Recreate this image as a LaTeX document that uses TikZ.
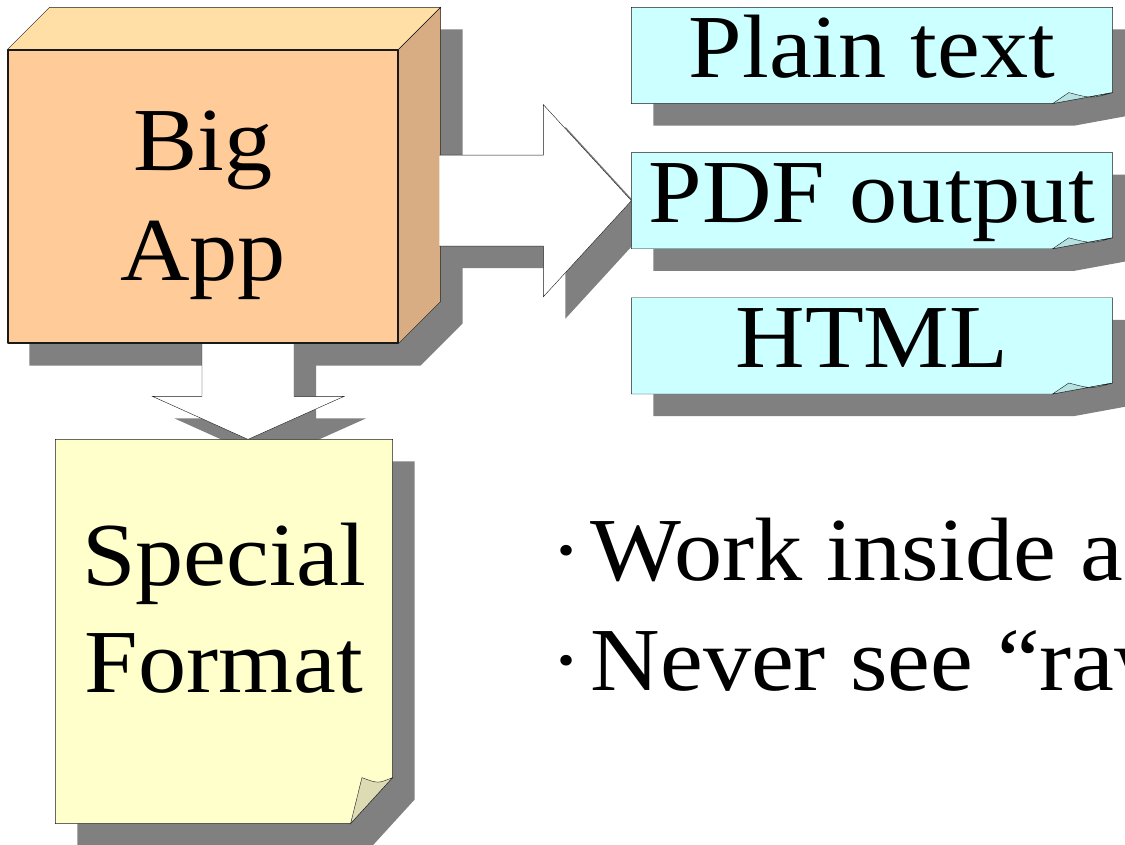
\documentclass[tikz,border=0pt]{standalone}
\usepackage{fontspec}
\setmainfont[FakeStretch=1.07]{Liberation Serif}
\usetikzlibrary{positioning}
\definecolor{peach}{HTML}{FFCC99}
\definecolor{peachtop}{HTML}{FFDFA6}
\definecolor{peachside}{HTML}{D9AD84}
\definecolor{notecyan}{HTML}{CCFFFF}
\definecolor{notecyanflap}{HTML}{B6E2E2}
\definecolor{noteyellow}{HTML}{FFFFCC}
\definecolor{noteyellowflap}{HTML}{DDDBB3}
\definecolor{shadowgray}{HTML}{808080}
\pgfdeclarelayer{shadows}
\pgfdeclarelayer{bodies}
\pgfsetlayers{shadows,bodies,main}
\begin{document}
\begin{tikzpicture}[x=1pt,y=-1pt,line width=1.2pt,line join=round,
  every node/.style={inner sep=0pt,font=\fontsize{90}{108}\selectfont},
  dropshadow/.style={fill=shadowgray},
  outline/.style={draw=black!90},
  blockarrow/.style={outline,fill=white},
  outnote/.style={minimum width=480pt,minimum height=95pt,text height=62pt,text depth=18pt}]
  \newcommand{\stickynote}[5]{%
    \begin{pgfonlayer}{shadows}
      \fill[dropshadow] ([shift={(22,22)}]#1.north west) -- ([shift={(22,22)}]#1.north east)
        -- ([shift={(22,22-#3)}]#1.south east) -- ([shift={(22-#2,22)}]#1.south east)
        -- ([shift={(22,22)}]#1.south west) -- cycle;
    \end{pgfonlayer}
    \begin{pgfonlayer}{bodies}
      \draw[outline,fill=#4] (#1.north west) -- (#1.north east) -- ([shift={(0,-#3)}]#1.south east)
        -- ([shift={(-#2,0)}]#1.south east) -- (#1.south west) -- cycle;
      \draw[outline,fill=#5] ([shift={(-#2,0)}]#1.south east) -- ([shift={(-0.73*#2,-#3)}]#1.south east)
        .. controls ([shift={(-0.35*#2,-#3+6)}]#1.south east) .. ([shift={(0,-#3)}]#1.south east) -- cycle;
    \end{pgfonlayer}}
  \newcommand{\rightblock}[2]{%
    \path[#2] ([shift={(-192+#1,-45.5+#1)}]pdf.west) -- ([shift={(-88+#1,-45.5+#1)}]pdf.west)
      -- ([shift={(-88+#1,-96+#1)}]pdf.west) -- ([shift={(#1,#1)}]pdf.west)
      -- ([shift={(-88+#1,96+#1)}]pdf.west) -- ([shift={(-88+#1,45.5+#1)}]pdf.west)
      -- ([shift={(-192+#1,45.5+#1)}]pdf.west);}
  \newcommand{\downblock}[2]{%
    \path[#2] ([shift={(-46+#1,-97+#1)}]dtip) -- ([shift={(-46+#1,-43+#1)}]dtip)
      -- ([shift={(-95.5+#1,-43+#1)}]dtip) -- ([shift={(#1,#1)}]dtip)
      -- ([shift={(96+#1,-43+#1)}]dtip) -- ([shift={(46+#1,-43+#1)}]dtip)
      -- ([shift={(46+#1,-97+#1)}]dtip);}
  \useasboundingbox (0,0) rectangle (1125,845);
  % Big App box
  \node[outline,fill=peach,minimum width=390pt,minimum height=293pt] (app) at (203,196.5) {};
  \foreach \w/\y in {Big/171,App/280} {\node[anchor=base] (lbl\w) at (203,\y) {\w};}
  % Output notes
  \node[outnote] (plain) at (872,55.5) {Plain text};
  \node[outnote,below=49pt of plain] (pdf) {PDF output};
  \node[outnote,below=49pt of pdf] (html) {HTML};
  % Special format note
  \node[minimum width=336pt,minimum height=383pt] (fmt) at (224,631.5) {};
  \foreach \w/\y in {Special/585,Format/692} {\node[anchor=base] (lbl\w) at (224,\y) {\w};}
  \coordinate (dtip) at ([shift={(24,0)}]fmt.north);
  % Bullets
  \node[anchor=base west] (work) at (550,580) {·\hspace{0.09em}Work inside a};
  \node[anchor=base west] (never) at (550,690) {·\hspace{0.09em}Never see “raw};
  % Shadows of box and arrows
  \begin{pgfonlayer}{shadows}
    \fill[dropshadow] ([shift={(22,22)}]app.south west) -- ([shift={(22,22)}]app.north west)
      -- ([shift={(64,-20)}]app.north west) -- ([shift={(64,-20)}]app.north east)
      -- ([shift={(64,-20)}]app.south east) -- ([shift={(22,22)}]app.south east) -- cycle;
    \rightblock{22}{dropshadow}
    \downblock{22}{dropshadow}
  \end{pgfonlayer}
  % Box faces and arrows
  \begin{pgfonlayer}{bodies}
    \draw[outline,fill=peachtop] (app.north west) -- ([shift={(42,-42)}]app.north west)
      -- ([shift={(42,-42)}]app.north east) -- (app.north east) -- cycle;
    \draw[outline,fill=peachside] (app.north east) -- ([shift={(42,-42)}]app.north east)
      -- ([shift={(42,-42)}]app.south east) -- (app.south east) -- cycle;
    \rightblock{0}{blockarrow}
    \downblock{0}{blockarrow}
  \end{pgfonlayer}
  % Notes
  \foreach \n in {plain,pdf,html} {\stickynote{\n}{60}{11}{notecyan}{notecyanflap}}
  \stickynote{fmt}{42}{46}{noteyellow}{noteyellowflap}
\end{tikzpicture}
\end{document}
